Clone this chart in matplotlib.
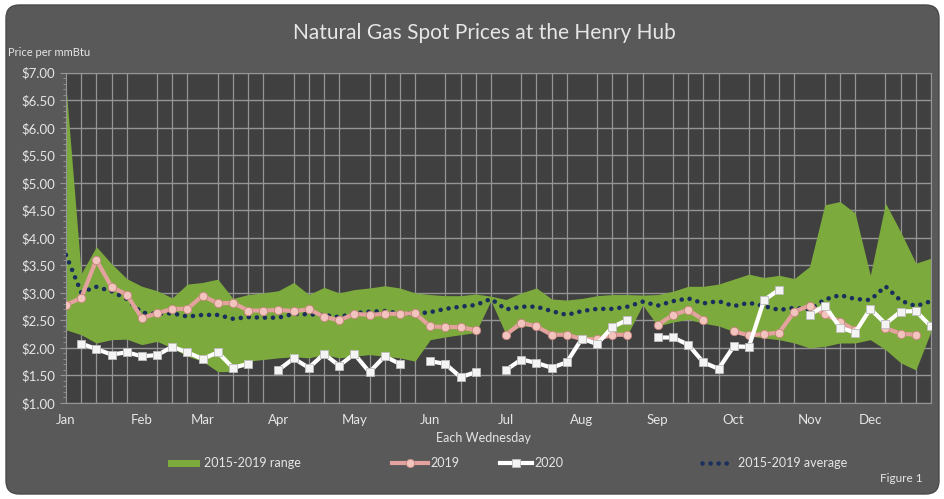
import numpy as np
import matplotlib
matplotlib.use("Agg")
import matplotlib.pyplot as plt
from matplotlib.patches import FancyBboxPatch, Rectangle
from matplotlib.lines import Line2D

nan = np.nan

# ---------------- data ----------------
month_labels = ['Jan', 'Feb', 'Mar', 'Apr', 'May', 'Jun', 'Jul', 'Aug', 'Sep', 'Oct', 'Nov', 'Dec']
month_pos = [0, 5, 9, 14, 19, 24, 29, 34, 39, 44, 49, 53]
y_ticks = [1.0, 1.5, 2.0, 2.5, 3.0, 3.5, 4.0, 4.5, 5.0, 5.5, 6.0, 6.5, 7.0]

range_low = [2.33, 2.24, 2.09, 2.15, 2.16, 2.06, 2.12, 2.00, 1.85, 1.76,
             1.57, 1.57, 1.76, 1.79, 1.82, 1.84, 1.82, 1.88, 1.82, 1.85,
             1.88, 1.85, 1.82, 1.76, 2.15, 2.20, 2.24, 2.28, 2.86, 2.24,
             2.40, 2.39, 2.24, 2.22, 2.16, 2.16, 2.22, 2.24, 2.78, 2.40,
             2.47, 2.52, 2.45, 2.40, 2.30, 2.22, 2.18, 2.15, 2.09, 2.00,
             2.03, 2.09, 2.09, 2.15, 1.97, 1.73, 1.60, 2.30]
range_high = [6.75, 3.35, 3.84, 3.53, 3.26, 3.12, 3.04, 2.91, 3.16, 3.19,
              3.25, 2.90, 2.97, 3.00, 3.04, 3.19, 2.97, 3.10, 3.00, 3.06,
              3.09, 3.13, 3.09, 3.00, 2.97, 2.95, 2.95, 2.98, 2.94, 2.88,
              3.00, 3.09, 2.89, 2.87, 2.90, 2.95, 2.97, 2.97, 2.96, 2.97,
              3.03, 3.12, 3.12, 3.16, 3.25, 3.34, 3.28, 3.32, 3.26, 3.48,
              4.60, 4.66, 4.45, 3.32, 4.63, 4.11, 3.54, 3.63]
avg_1519 = [3.69, 3.01, 3.11, 3.03, 2.89, 2.64, 2.62, 2.63, 2.57, 2.60,
            2.60, 2.53, 2.56, 2.55, 2.55, 2.62, 2.61, 2.60, 2.56, 2.63,
            2.66, 2.67, 2.63, 2.62, 2.65, 2.71, 2.75, 2.78, 2.89, 2.70,
            2.75, 2.75, 2.67, 2.60, 2.67, 2.71, 2.71, 2.75, 2.84, 2.77,
            2.85, 2.90, 2.81, 2.85, 2.76, 2.82, 2.76, 2.69, 2.73, 2.70,
            2.88, 2.96, 2.89, 2.87, 3.12, 2.86, 2.76, 2.85]
y2019 = [2.78, 2.91, 3.60, 3.11, 2.97, 2.54, 2.63, 2.71, 2.71, 2.95,
         2.81, 2.82, 2.68, 2.68, 2.69, 2.67, 2.70, 2.57, 2.50, 2.62,
         2.60, 2.62, 2.62, 2.63, 2.39, 2.38, 2.38, 2.32, nan, 2.24,
         2.46, 2.39, 2.24, 2.24, 2.16, 2.16, 2.24, 2.24, nan, 2.42,
         2.60, 2.69, 2.51, nan, 2.30, 2.23, 2.25, 2.28, 2.66, 2.77,
         2.61, 2.48, 2.32, nan, 2.36, 2.26, 2.24, nan]
y2020 = [nan, 2.08, 1.98, 1.88, 1.92, 1.85, 1.87, 2.02, 1.92, 1.80,
         1.92, 1.64, 1.71, nan, 1.60, 1.81, 1.64, 1.89, 1.68, 1.89,
         1.56, 1.85, 1.71, nan, 1.76, 1.71, 1.47, 1.56, nan, 1.60,
         1.79, 1.73, 1.64, 1.74, 2.17, 2.07, 2.38, 2.51, nan, 2.19,
         2.19, 2.06, 1.74, 1.62, 2.03, 2.02, 2.87, 3.06, nan, 2.60,
         2.77, 2.37, 2.28, 2.71, 2.44, 2.66, 2.67, 2.39]

weeks = np.arange(len(avg_1519))

# ---------------- style ----------------
FONT = ['Lato', 'DejaVu Sans']
plt.rcParams['font.family'] = FONT
BG = '#595959'
PLOT_BG = '#404040'
GRID = '#959595'
TXT = '#e6e6e6'
GREEN = '#7caa3c'
PINK = '#e3a29e'
NAVY = '#1b2f5c'
DOTS = (0, (0.01, 1.75))

W, H = 945, 499
fig = plt.figure(figsize=(W / 100, H / 100), dpi=100)
fig.patch.set_facecolor('white')

# rounded chart background
bgpatch = FancyBboxPatch((6 / W, 5 / H), (W - 12) / W, (H - 10) / H,
                         boxstyle="round,pad=0,rounding_size=0.014",
                         transform=fig.transFigure, facecolor=BG,
                         edgecolor='#4a4a4a', linewidth=1.0, zorder=-10,
                         mutation_aspect=W / H)
fig.patches.append(bgpatch)

x0, x1 = 66, 931
ytop, ybot = 72.7, 403
ax = fig.add_axes([x0 / W, 1 - ybot / H, (x1 - x0) / W, (ybot - ytop) / H], zorder=1)
ax.set_facecolor(PLOT_BG)
ax.set_xlim(0, len(weeks) - 1)
ax.set_ylim(1, 7)

# grid
ax.set_yticks(y_ticks)
ax.set_yticklabels(['${:.2f}'.format(v) for v in y_ticks], color=TXT, fontsize=9.5)
ax.set_yticks(np.arange(1.0, 7.01, 0.1), minor=True)
ax.set_xticks(weeks, minor=True)
ax.set_xticks(month_pos)
ax.set_xticklabels(month_labels, color=TXT, fontsize=9.5)
ax.grid(True, which='major', axis='y', color=GRID, linewidth=1.0, zorder=1)
ax.grid(True, which='minor', axis='x', color=GRID, linewidth=0.9, zorder=1)
ax.tick_params(axis='x', which='both', length=0, pad=8)
ax.tick_params(axis='y', which='major', length=4, color=GRID, pad=4)
ax.tick_params(axis='y', which='minor', length=2, color=GRID)
for s in ['top', 'right', 'left', 'bottom']:
    ax.spines[s].set_color(GRID)
    ax.spines[s].set_linewidth(0.8)
ax.set_axisbelow(True)

# range
ax.fill_between(weeks, range_low, range_high, color=GREEN, linewidth=0, zorder=2)
# average
ax.plot(weeks, avg_1519, color=NAVY, linestyle=DOTS, linewidth=3.3,
        dash_capstyle='round', zorder=3)
# 2019
ax.plot(weeks, y2019, color=PINK, linewidth=3, marker='o', markersize=6,
        markerfacecolor='#f2c4be', markeredgecolor='#c98580', markeredgewidth=0.6, zorder=4)
# 2020
ax.plot(weeks, y2020, color='white', linewidth=3, marker='s', markersize=6.3,
        markerfacecolor='#f4f4f4', markeredgecolor='#bdbdbd', markeredgewidth=0.6, zorder=5)

# texts
fig.text(484 / W, 1 - 33 / H, 'Natural Gas Spot Prices at the Henry Hub', color=TXT,
         fontsize=15, ha='center', va='center')
fig.text(8 / W, 1 - 53 / H, 'Price per mmBtu', color=TXT, fontsize=8, ha='left', va='center')
fig.text(484 / W, 1 - 438 / H, 'Each Wednesday', color=TXT, fontsize=9, ha='center', va='center')
fig.text(880 / W, 1 - 478 / H, 'Figure 1', color=TXT, fontsize=8.5, ha='left', va='center')

# legend (manual)
ly = 1 - 463 / H
def fx(p):
    return p / W
fig.patches.append(Rectangle((fx(168), ly - 3.5 / H), 32 / W, 7 / H, transform=fig.transFigure,
                             facecolor=GREEN, edgecolor='none', zorder=5))
fig.text(fx(204), ly, '2015-2019 range', color=TXT, fontsize=9, ha='left', va='center')
fig.lines.append(Line2D([fx(392), fx(428)], [ly, ly], transform=fig.transFigure, color=PINK,
                        linewidth=3, zorder=5))
fig.lines.append(Line2D([fx(410)], [ly], transform=fig.transFigure, color=PINK, marker='o',
                        markersize=6, markerfacecolor='#f2c4be', markeredgecolor='#c98580',
                        markeredgewidth=0.6, linestyle='none', zorder=6))
fig.text(fx(430), ly, '2019', color=TXT, fontsize=9, ha='left', va='center')
fig.lines.append(Line2D([fx(500), fx(532)], [ly, ly], transform=fig.transFigure, color='white',
                        linewidth=3, zorder=5))
fig.lines.append(Line2D([fx(516)], [ly], transform=fig.transFigure, color='white', marker='s',
                        markersize=6.3, markerfacecolor='#f4f4f4', markeredgecolor='#bdbdbd',
                        markeredgewidth=0.6, linestyle='none', zorder=6))
fig.text(fx(534), ly, '2020', color=TXT, fontsize=9, ha='left', va='center')
fig.lines.append(Line2D([fx(702), fx(734)], [ly, ly], transform=fig.transFigure, color=NAVY,
                        linestyle=DOTS, linewidth=3.3, dash_capstyle='round', zorder=5))
fig.text(fx(738), ly, '2015-2019 average', color=TXT, fontsize=9, ha='left', va='center')

fig.savefig('out.png', dpi=100, facecolor=fig.get_facecolor())
